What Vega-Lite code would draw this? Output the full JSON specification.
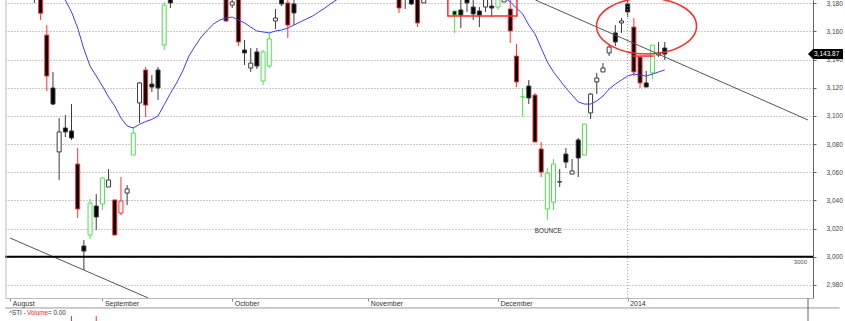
{
  "$schema": "https://vega.github.io/schema/vega-lite/v6.json",
  "width": 808,
  "height": 298,
  "autosize": {"type": "none"},
  "padding": {"left": 5, "top": 0, "right": 32, "bottom": 23},
  "background": "white",
  "config": {
    "view": {"stroke": null},
    "font": "Liberation Sans",
    "axisX": {"domainColor": "#bbbbbb", "tickColor": "#888888", "tickSize": 3, "labelFontSize": 7, "labelColor": "#333333", "labelAlign": "left", "labelBaseline": "middle", "labelPadding": 2.5, "labelOffset": 2, "grid": false, "labelOverlap": false, "labelFlush": false, "labelBound": false},
    "axisY": {"domainColor": "#666666", "tickColor": "#666666", "tickSize": 3, "labelFontSize": 6.5, "labelColor": "#444444", "labelPadding": 10, "grid": true, "gridDash": [1, 2], "gridColor": "#999999", "labelOverlap": false, "labelFlush": false, "labelBound": false}
  },
  "resolve": {"axis": {"x": "independent", "y": "independent"}},
  "datasets": {
    "candles": [
      {"i": -1, "o": 3190, "h": 3193, "l": 3180.2, "c": 3184, "e": "n"},
      {"i": 0, "o": 3192, "h": 3195, "l": 3168.1, "c": 3172.9, "e": "r"},
      {"i": 1, "o": 3157.4, "h": 3164.5, "l": 3117.7, "c": 3128.3, "e": "r"},
      {"i": 2, "o": 3119.8, "h": 3131.2, "l": 3107.7, "c": 3108.4, "e": "n"},
      {"i": 3, "o": 3074.4, "h": 3098.5, "l": 3054.5, "c": 3088.6, "e": "n"},
      {"i": 4, "o": 3091.4, "h": 3100.6, "l": 3085.0, "c": 3088.6, "e": "n"},
      {"i": 5, "o": 3089.3, "h": 3108.4, "l": 3082.9, "c": 3084.3, "e": "n"},
      {"i": 6, "o": 3065.8, "h": 3077.2, "l": 3027.5, "c": 3033.9, "e": "r"},
      {"i": 7, "o": 3007.6, "h": 3011.9, "l": 2990.5, "c": 3004.0, "e": "n"},
      {"i": 8, "o": 3015.4, "h": 3041.0, "l": 3012.6, "c": 3038.1, "e": "g"},
      {"i": 9, "o": 3036.0, "h": 3044.5, "l": 3019.0, "c": 3028.2, "e": "n"},
      {"i": 10, "o": 3037.4, "h": 3056.6, "l": 3033.2, "c": 3055.9, "e": "g"},
      {"i": 11, "o": 3049.5, "h": 3062.3, "l": 3049.5, "c": 3054.5, "e": "n"},
      {"i": 12, "o": 3040.3, "h": 3040.3, "l": 3015.4, "c": 3015.4, "e": "r"},
      {"i": 13, "o": 3031.0, "h": 3056.6, "l": 3029.6, "c": 3039.6, "e": "r"},
      {"i": 14, "o": 3045.2, "h": 3050.9, "l": 3036.7, "c": 3048.1, "e": "n"},
      {"i": 15, "o": 3072.2, "h": 3092.1, "l": 3072.2, "c": 3087.8, "e": "g"},
      {"i": 16, "o": 3109.2, "h": 3124.1, "l": 3094.9, "c": 3123.4, "e": "n"},
      {"i": 17, "o": 3132.6, "h": 3134.7, "l": 3099.2, "c": 3107.7, "e": "r"},
      {"i": 18, "o": 3122.6, "h": 3129.0, "l": 3117.0, "c": 3120.5, "e": "n"},
      {"i": 19, "o": 3132.6, "h": 3134.7, "l": 3111.3, "c": 3119.8, "e": "n"},
      {"i": 20, "o": 3150.3, "h": 3180.9, "l": 3146.8, "c": 3178.7, "e": "g"},
      {"i": 21, "o": 3183, "h": 3186, "l": 3176.6, "c": 3180.2, "e": "n"},
      {"i": 30, "o": 3190, "h": 3193, "l": 3166.7, "c": 3167.4, "e": "r"},
      {"i": 31, "o": 3178.7, "h": 3184, "l": 3176.6, "c": 3180.9, "e": "n"},
      {"i": 32, "o": 3188, "h": 3191, "l": 3149.6, "c": 3152.5, "e": "r"},
      {"i": 33, "o": 3146.8, "h": 3153.9, "l": 3136.1, "c": 3144.7, "e": "n"},
      {"i": 34, "o": 3134.0, "h": 3148.2, "l": 3131.2, "c": 3137.5, "e": "n"},
      {"i": 35, "o": 3145.4, "h": 3148.2, "l": 3133.3, "c": 3135.4, "e": "n"},
      {"i": 36, "o": 3124.8, "h": 3146.8, "l": 3121.9, "c": 3145.4, "e": "g"},
      {"i": 37, "o": 3135.4, "h": 3158.9, "l": 3134.0, "c": 3154.6, "e": "g"},
      {"i": 38, "o": 3167.4, "h": 3175.9, "l": 3161.7, "c": 3169.5, "e": "n"},
      {"i": 39, "o": 3184, "h": 3187, "l": 3178.0, "c": 3179.5, "e": "n"},
      {"i": 40, "o": 3180.2, "h": 3183, "l": 3155.3, "c": 3164.5, "e": "r"},
      {"i": 41, "o": 3179.5, "h": 3183.5, "l": 3164.5, "c": 3173.1, "e": "n"},
      {"i": 58, "o": 3190, "h": 3192, "l": 3173.1, "c": 3176.6, "e": "r"},
      {"i": 59, "o": 3184, "h": 3190, "l": 3175.9, "c": 3188, "e": "n"},
      {"i": 60, "o": 3186, "h": 3189, "l": 3178.7, "c": 3179.5, "e": "n"},
      {"i": 61, "o": 3186, "h": 3189, "l": 3163.1, "c": 3166.0, "e": "r"},
      {"i": 62, "o": 3180.2, "h": 3186, "l": 3180.2, "c": 3184, "e": "n"},
      {"i": 67, "o": 3174.5, "h": 3174.5, "l": 3158.9, "c": 3171.6, "e": "g"},
      {"i": 68, "o": 3175.2, "h": 3183, "l": 3162.4, "c": 3171.6, "e": "n"},
      {"i": 69, "o": 3184, "h": 3186, "l": 3173.8, "c": 3180.2, "e": "n"},
      {"i": 70, "o": 3177.3, "h": 3183, "l": 3168.1, "c": 3172.4, "e": "n"},
      {"i": 71, "o": 3174.5, "h": 3177.3, "l": 3163.1, "c": 3171.6, "e": "n"},
      {"i": 72, "o": 3177.3, "h": 3185, "l": 3173.8, "c": 3183.5, "e": "n"},
      {"i": 73, "o": 3178.0, "h": 3183, "l": 3170.2, "c": 3176.6, "e": "n"},
      {"i": 74, "o": 3177.3, "h": 3185, "l": 3175.2, "c": 3183.5, "e": "g"},
      {"i": 75, "o": 3180.9, "h": 3186, "l": 3180.9, "c": 3184, "e": "n"},
      {"i": 76, "o": 3175.9, "h": 3183, "l": 3151.8, "c": 3160.3, "e": "r"},
      {"i": 77, "o": 3142.5, "h": 3151.1, "l": 3120.5, "c": 3124.1, "e": "r"},
      {"i": 78, "o": 3113.4, "h": 3119.8, "l": 3099.2, "c": 3113.6, "e": "g"},
      {"i": 79, "o": 3121.2, "h": 3125.5, "l": 3108.4, "c": 3112.7, "e": "n"},
      {"i": 80, "o": 3114.8, "h": 3116.3, "l": 3081.5, "c": 3081.5, "e": "r"},
      {"i": 81, "o": 3076.5, "h": 3081.5, "l": 3056.6, "c": 3060.1, "e": "r"},
      {"i": 82, "o": 3033.9, "h": 3063.0, "l": 3026.1, "c": 3059.4, "e": "g"},
      {"i": 83, "o": 3038.8, "h": 3069.4, "l": 3033.2, "c": 3065.8, "e": "g"},
      {"i": 84, "o": 3053.0, "h": 3062.3, "l": 3049.5, "c": 3053.3, "e": "n"},
      {"i": 85, "o": 3072.9, "h": 3077.2, "l": 3063.0, "c": 3067.2, "e": "n"},
      {"i": 86, "o": 3058.7, "h": 3069.4, "l": 3058.7, "c": 3060.9, "e": "n"},
      {"i": 87, "o": 3082.9, "h": 3084.3, "l": 3056.6, "c": 3070.1, "e": "n"},
      {"i": 88, "o": 3072.2, "h": 3094.2, "l": 3072.2, "c": 3094.2, "e": "g"},
      {"i": 89, "o": 3102.1, "h": 3116.3, "l": 3097.8, "c": 3115.5, "e": "n"},
      {"i": 90, "o": 3124.1, "h": 3130.5, "l": 3115.5, "c": 3126.9, "e": "n"},
      {"i": 91, "o": 3131.2, "h": 3137.5, "l": 3131.2, "c": 3134.0, "e": "n"},
      {"i": 92, "o": 3144.7, "h": 3150.3, "l": 3142.5, "c": 3148.9, "e": "n"},
      {"i": 93, "o": 3158.9, "h": 3164.5, "l": 3149.6, "c": 3152.5, "e": "n"},
      {"i": 94, "o": 3166.0, "h": 3169.5, "l": 3158.9, "c": 3167.4, "e": "n"},
      {"i": 95, "o": 3179.5, "h": 3182.5, "l": 3170.2, "c": 3173.8, "e": "n"},
      {"i": 96, "o": 3163.1, "h": 3169.5, "l": 3128.3, "c": 3131.2, "e": "r"},
      {"i": 97, "o": 3141.8, "h": 3141.8, "l": 3119.8, "c": 3123.4, "e": "r"},
      {"i": 98, "o": 3123.4, "h": 3131.9, "l": 3120.5, "c": 3120.5, "e": "n"},
      {"i": 99, "o": 3130.5, "h": 3150.3, "l": 3126.2, "c": 3150.3, "e": "g"},
      {"i": 100, "o": 3143.2, "h": 3152.5, "l": 3141.8, "c": 3144.7, "e": "n"},
      {"i": 101, "o": 3148.2, "h": 3152.5, "l": 3139.7, "c": 3143.87, "e": "n"}
    ],
    "ma": [
      {"i": 0, "ma": 3200}, {"i": 2, "ma": 3192}, {"i": 4, "ma": 3182.3}, {"i": 5, "ma": 3173.8},
      {"i": 6, "ma": 3162.4}, {"i": 7, "ma": 3147.5}, {"i": 8, "ma": 3135.4}, {"i": 9, "ma": 3128.3},
      {"i": 10, "ma": 3121.2}, {"i": 11, "ma": 3113.4}, {"i": 12, "ma": 3107.0}, {"i": 13, "ma": 3098.5},
      {"i": 14, "ma": 3092.8}, {"i": 15, "ma": 3091.4}, {"i": 16, "ma": 3094.0}, {"i": 17, "ma": 3096.0},
      {"i": 18, "ma": 3097.5}, {"i": 19, "ma": 3099.9}, {"i": 20, "ma": 3108.0}, {"i": 21, "ma": 3116.0},
      {"i": 22, "ma": 3123.4}, {"i": 23, "ma": 3131.9}, {"i": 24, "ma": 3142.5}, {"i": 25, "ma": 3149.6},
      {"i": 26, "ma": 3156.0}, {"i": 27, "ma": 3161.0}, {"i": 28, "ma": 3165.3}, {"i": 29, "ma": 3168.1},
      {"i": 30, "ma": 3169.5}, {"i": 31, "ma": 3170.2}, {"i": 32, "ma": 3168.1}, {"i": 33, "ma": 3166.0},
      {"i": 34, "ma": 3163.1}, {"i": 35, "ma": 3160.3}, {"i": 36, "ma": 3159.6}, {"i": 37, "ma": 3158.9},
      {"i": 38, "ma": 3160.3}, {"i": 39, "ma": 3161.0}, {"i": 40, "ma": 3162.4}, {"i": 41, "ma": 3164.5},
      {"i": 42, "ma": 3166.7}, {"i": 43, "ma": 3168.8}, {"i": 44, "ma": 3170.9}, {"i": 45, "ma": 3173.8},
      {"i": 46, "ma": 3176.6}, {"i": 47, "ma": 3179.8}, {"i": 48, "ma": 3182.8}, {"i": 50, "ma": 3188},
      {"i": 55, "ma": 3192}, {"i": 60, "ma": 3192}, {"i": 65, "ma": 3189}, {"i": 70, "ma": 3187},
      {"i": 74, "ma": 3185.5}, {"i": 75, "ma": 3184}, {"i": 76, "ma": 3180.9}, {"i": 77, "ma": 3176.6},
      {"i": 78, "ma": 3172.4}, {"i": 79, "ma": 3164.5}, {"i": 80, "ma": 3158.2}, {"i": 81, "ma": 3148.2},
      {"i": 82, "ma": 3138.3}, {"i": 83, "ma": 3131.2}, {"i": 84, "ma": 3125.5}, {"i": 85, "ma": 3119.8},
      {"i": 86, "ma": 3114.8}, {"i": 87, "ma": 3109.9}, {"i": 88, "ma": 3108.4}, {"i": 89, "ma": 3108.4},
      {"i": 90, "ma": 3110.6}, {"i": 91, "ma": 3114.1}, {"i": 92, "ma": 3119.1}, {"i": 93, "ma": 3122.6},
      {"i": 94, "ma": 3125.5}, {"i": 95, "ma": 3128.3}, {"i": 96, "ma": 3129.7}, {"i": 97, "ma": 3129.0},
      {"i": 98, "ma": 3128.3}, {"i": 99, "ma": 3129.7}, {"i": 100, "ma": 3131.2}, {"i": 101, "ma": 3132.6}
    ],
    "trend": [
      {"line": "a", "i": -4.954, "v": 3013.3},
      {"line": "a", "i": 17.42, "v": 2970.67},
      {"line": "b", "i": 80.07, "v": 3182.3},
      {"line": "b", "i": 124.18, "v": 3097.1}
    ],
    "volume": [
      {"i": 5, "vol": 1},
      {"i": 9, "vol": 1}
    ]
  },
  "layer": [
    {
      "data": {"name": "candles"},
      "mark": {"type": "rule", "clip": true, "strokeWidth": 1},
      "encoding": {
        "x": {"field": "i", "type": "quantitative", "title": null,
              "scale": {"domain": [-4.954, 124.18], "nice": false, "zero": false},
              "axis": {"values": [-4.9, 10, 31, 53, 74, 95],
                       "labelExpr": "datum.value < 0 ? 'August' : datum.value == 10 ? 'September' : datum.value == 31 ? 'October' : datum.value == 53 ? 'November' : datum.value == 74 ? 'December' : '2014'"}},
        "y": {"field": "l", "type": "quantitative", "title": null,
              "scale": {"domain": [2970.67, 3182.3], "nice": false, "zero": false},
              "axis": {"orient": "right", "values": [2980, 3000, 3020, 3040, 3060, 3080, 3100, 3120, 3140, 3160, 3180], "format": ",d"}},
        "y2": {"field": "h"},
        "stroke": {"field": "e", "type": "nominal", "legend": null,
                   "scale": {"domain": ["r", "g", "n"], "range": ["#ff3030", "#4fe04f", "#3a3a3a"]}}
      }
    },
    {
      "data": {"name": "candles"},
      "mark": {"type": "bar", "clip": true, "width": 4, "strokeWidth": 1},
      "encoding": {
        "x": {"field": "i", "type": "quantitative", "axis": null},
        "y": {"field": "o", "type": "quantitative", "axis": null},
        "y2": {"field": "c"},
        "fill": {"condition": {"test": "datum.c < datum.o", "value": "#000000"}, "value": "#ffffff"},
        "stroke": {"field": "e", "type": "nominal", "legend": null}
      }
    },
    {
      "data": {"name": "ma"},
      "mark": {"type": "line", "clip": true, "color": "#3c3cff", "strokeWidth": 1},
      "encoding": {
        "x": {"field": "i", "type": "quantitative", "axis": null},
        "y": {"field": "ma", "type": "quantitative", "axis": null}
      }
    },
    {
      "data": {"name": "trend"},
      "mark": {"type": "line", "clip": true, "color": "#555555", "strokeWidth": 1},
      "encoding": {
        "x": {"field": "i", "type": "quantitative", "axis": null},
        "y": {"field": "v", "type": "quantitative", "axis": null},
        "detail": {"field": "line"}
      }
    },
    {
      "data": {"values": [{}]},
      "mark": {"type": "rule", "color": "#000000", "strokeWidth": 2},
      "encoding": {"y": {"datum": 3000, "type": "quantitative", "axis": null}}
    },
    {
      "data": {"values": [{}]},
      "mark": {"type": "rule", "color": "#999999", "strokeWidth": 1, "strokeDash": [1, 2]},
      "encoding": {"x": {"datum": 95, "type": "quantitative", "axis": null}}
    },
    {
      "data": {"values": [{}]},
      "mark": {"type": "rect", "clip": true, "fill": "transparent", "stroke": "#ff2a2a", "strokeWidth": 1.5},
      "encoding": {
        "x": {"datum": 65.9, "type": "quantitative", "axis": null}, "x2": {"datum": 77.08},
        "y": {"datum": 3170.9, "type": "quantitative", "axis": null}, "y2": {"datum": 3195}
      }
    },
    {
      "data": {"values": [{}]},
      "mark": {"type": "point", "clip": true, "filled": false, "opacity": 1, "color": "#ff2a2a", "strokeWidth": 1.5, "size": 10000,
               "shape": "M -1 0 C -1 -0.309 -0.5523 -0.56 0 -0.56 C 0.5523 -0.56 1 -0.309 1 0 C 1 0.309 0.5523 0.56 0 0.56 C -0.5523 0.56 -1 0.309 -1 0 Z"},
      "encoding": {
        "x": {"datum": 98.05, "type": "quantitative", "axis": null},
        "y": {"datum": 3163.8, "type": "quantitative", "axis": null}
      }
    },
    {
      "data": {"values": [{}]},
      "mark": {"type": "rule", "color": "#ff2a2a", "strokeWidth": 1.5},
      "encoding": {
        "x": {"datum": 95.8, "type": "quantitative", "axis": null}, "x2": {"datum": 99.2},
        "y": {"datum": 3142.5, "type": "quantitative", "axis": null}
      }
    },
    {
      "data": {"values": [{}]},
      "mark": {"type": "text", "text": "BOUNCE", "fontSize": 6.3, "color": "#333333", "align": "center", "baseline": "middle"},
      "encoding": {
        "x": {"datum": 82.15, "type": "quantitative", "axis": null},
        "y": {"datum": 3018.2, "type": "quantitative", "axis": null}
      }
    },
    {
      "data": {"values": [{}]},
      "mark": {"type": "text", "text": "3000", "fontSize": 6, "color": "#555555", "align": "right", "baseline": "top", "dy": 2, "dx": -1},
      "encoding": {
        "x": {"datum": 124.18, "type": "quantitative", "axis": null},
        "y": {"datum": 3000, "type": "quantitative", "axis": null}
      }
    },
    {
      "data": {"values": [{}]},
      "mark": {"type": "point", "filled": true, "opacity": 1, "color": "#000000", "strokeWidth": 0, "size": 100,
               "shape": "M 0 0 L 1 -1 L 7 -1 L 7 1 L 1 1 Z"},
      "encoding": {
        "x": {"datum": 124.18, "type": "quantitative", "axis": null},
        "y": {"datum": 3143.87, "type": "quantitative", "axis": null}
      }
    },
    {
      "data": {"values": [{}]},
      "mark": {"type": "text", "text": "3,143.87", "fontSize": 6.5, "color": "#ffffff", "align": "left", "baseline": "middle", "dx": 6},
      "encoding": {
        "x": {"datum": 124.18, "type": "quantitative", "axis": null},
        "y": {"datum": 3143.87, "type": "quantitative", "axis": null}
      }
    },
    {
      "data": {"values": [{}]},
      "mark": {"type": "rule", "color": "#999999", "strokeWidth": 1},
      "encoding": {
        "x": {"datum": -5.754, "type": "quantitative", "axis": null}, "x2": {"datum": 129.3},
        "y": {"datum": 2963.6, "type": "quantitative", "axis": null}
      }
    },
    {
      "data": {"values": [{}]},
      "mark": {"type": "rule", "color": "#666666", "strokeWidth": 1},
      "encoding": {
        "x": {"datum": 124.18, "type": "quantitative", "axis": null},
        "y": {"datum": 2970.67, "type": "quantitative", "axis": null}, "y2": {"datum": 2954}
      }
    },
    {
      "data": {"values": [{}]},
      "mark": {"type": "rule", "color": "#bbbbbb", "strokeWidth": 1},
      "encoding": {
        "x": {"datum": -5.6, "type": "quantitative", "axis": null},
        "y": {"datum": 2970.67, "type": "quantitative", "axis": null}, "y2": {"datum": 3182.3}
      }
    },
    {
      "data": {"name": "volume"},
      "mark": {"type": "rule", "color": "#ff3030", "strokeWidth": 1},
      "encoding": {
        "x": {"field": "i", "type": "quantitative", "axis": null},
        "y": {"datum": 2957.9, "type": "quantitative", "axis": null}, "y2": {"datum": 2952}
      }
    },
    {
      "data": {"values": [{}]},
      "mark": {"type": "text", "text": "^STI - ", "fontSize": 6.3, "color": "#333333", "align": "left", "baseline": "middle", "dx": -1},
      "encoding": {
        "x": {"datum": -4.954, "type": "quantitative", "axis": null},
        "y": {"datum": 2960, "type": "quantitative", "axis": null}
      }
    },
    {
      "data": {"values": [{}]},
      "mark": {"type": "text", "text": "Volume", "fontSize": 6.3, "color": "#ff2020", "align": "left", "baseline": "middle", "dx": 17},
      "encoding": {
        "x": {"datum": -4.954, "type": "quantitative", "axis": null},
        "y": {"datum": 2960, "type": "quantitative", "axis": null}
      }
    },
    {
      "data": {"values": [{}]},
      "mark": {"type": "text", "text": " = 0.00", "fontSize": 6.3, "color": "#333333", "align": "left", "baseline": "middle", "dx": 38},
      "encoding": {
        "x": {"datum": -4.954, "type": "quantitative", "axis": null},
        "y": {"datum": 2960, "type": "quantitative", "axis": null}
      }
    }
  ]
}
